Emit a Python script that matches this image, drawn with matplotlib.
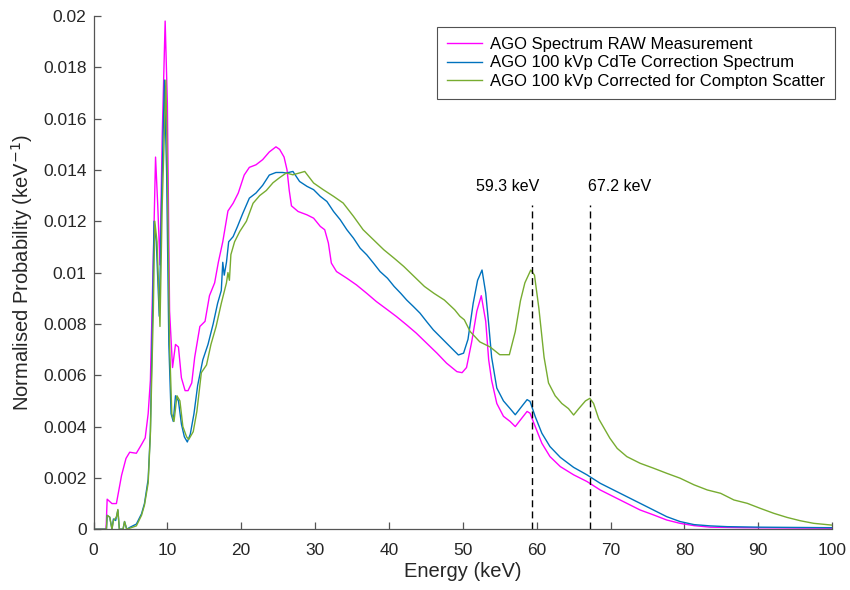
import matplotlib
matplotlib.use("Agg")
import matplotlib.pyplot as plt
from matplotlib.ticker import FuncFormatter

plt.rcParams["font.family"] = ["Liberation Sans", "DejaVu Sans"]

# values (keV, keV^-1)
energy_raw = [0, 1.7, 1.85, 2.5, 3.1, 3.8, 4.4, 4.9, 5.8, 6.5, 7.0, 7.4, 7.7, 8.1, 8.4, 8.7, 9.0,
              9.3, 9.7, 10.0, 10.3, 10.7, 11.1, 11.5, 11.9, 12.4, 12.8, 13.3, 13.7, 14.4, 15.1,
              15.7, 16.4, 16.9, 17.5, 18.2, 18.9, 19.6, 20.4, 21.1, 22.0, 22.9, 23.8, 24.7, 25.2,
              25.8, 26.2, 26.5, 26.8, 27.7, 28.9, 29.8, 30.7, 31.3, 31.8, 32.2, 32.9, 34.3, 35.6,
              37.0, 38.3, 39.8, 41.0, 42.4, 43.7, 45.1, 46.5, 47.8, 49.2, 49.9, 50.5, 51.2, 51.9,
              52.5, 53.1, 53.5, 53.9, 54.6, 55.5, 56.4, 57.1, 57.8, 58.7, 59.1, 59.8, 60.7, 61.8,
              63.2, 65.0, 66.8, 68.6, 70.4, 72.2, 74.0, 75.8, 77.6, 79.4, 81.3, 83.5, 88.1, 100]
prob_raw = [0, 0, 0.00117, 0.0010, 0.0010, 0.0021, 0.00276, 0.0030, 0.00296, 0.0033, 0.00356,
            0.0045, 0.0058, 0.0106, 0.0145, 0.0126, 0.0103, 0.0153, 0.0198, 0.0166, 0.0085,
            0.0063, 0.0072, 0.0071, 0.0059, 0.0054, 0.0054, 0.0057, 0.0067, 0.0079, 0.0081,
            0.0091, 0.0096, 0.0104, 0.0112, 0.0124, 0.0127, 0.0131, 0.0138, 0.0141, 0.0142,
            0.0144, 0.0147, 0.0149, 0.0148, 0.0145, 0.0140, 0.0132, 0.0126, 0.01238, 0.01225,
            0.01212, 0.0118, 0.01167, 0.01115, 0.01037, 0.01004, 0.00978, 0.00952, 0.00919,
            0.00887, 0.00855, 0.00829, 0.00796, 0.00764, 0.00725, 0.00686, 0.00647, 0.00614,
            0.0061, 0.0063, 0.0073, 0.0085, 0.0091, 0.0081, 0.0066, 0.0058, 0.0049, 0.0044,
            0.0042, 0.0040, 0.00426, 0.00459, 0.00452, 0.0040, 0.00335, 0.00283, 0.00244,
            0.00212, 0.00186, 0.00153, 0.00127, 0.00101, 0.00075, 0.00056, 0.00036, 0.00023,
            0.00014, 0.00008, 0.00006, 0.00004]

energy_cdte = [0, 1.75, 1.85, 2.2, 2.5, 2.7, 3.0, 3.3, 3.5, 4.0, 4.2, 4.5, 4.9, 5.8, 6.5, 6.9,
               7.4, 7.7, 8.0, 8.2, 8.5, 8.9, 9.2, 9.6, 9.9, 10.2, 10.5, 10.8, 11.1, 11.5, 11.9,
               12.3, 12.7, 13.1, 13.6, 14.1, 14.8, 15.5, 16.2, 16.8, 17.3, 17.5, 17.7, 18.0,
               18.3, 18.9, 19.5, 20.2, 21.1, 22.0, 22.9, 23.8, 24.7, 25.6, 26.1, 27.0, 27.9,
               28.9, 29.8, 30.7, 31.6, 32.5, 33.4, 34.3, 35.2, 36.1, 37.0, 37.9, 38.8, 39.8,
               40.7, 41.6, 42.4, 43.3, 44.2, 45.1, 46.0, 46.9, 47.8, 48.7, 49.4, 50.1, 50.7,
               51.4, 52.0, 52.6, 53.1, 53.5, 53.9, 54.6, 55.5, 56.4, 57.1, 57.8, 58.7, 59.1,
               59.8, 60.7, 61.8, 63.2, 65.0, 66.8, 68.6, 70.4, 72.2, 74.0, 75.8, 77.6, 79.4,
               81.3, 83.5, 85.8, 90.3, 94.8, 100]
prob_cdte = [0, 0, 0.00054, 0.00047, 0.0, 0.0004, 0.00034, 0.00074, 0, 0, 0.0003, 0, 0.00007,
             0.0002, 0.0006, 0.0010, 0.00195, 0.0038, 0.0085, 0.0120, 0.0112, 0.0083, 0.0126,
             0.0175, 0.0139, 0.0072, 0.0045, 0.0042, 0.0052, 0.0050, 0.0041, 0.0036, 0.0034,
             0.0037, 0.0045, 0.0056, 0.0066, 0.0072, 0.0080, 0.0088, 0.0093, 0.0104, 0.0099,
             0.0104, 0.0112, 0.0114, 0.0118, 0.0123, 0.0129, 0.0131, 0.0134, 0.0138, 0.0139,
             0.0139, 0.01388, 0.01394, 0.01355, 0.01336, 0.01323, 0.01297, 0.01277, 0.01238,
             0.01206, 0.01167, 0.01134, 0.01095, 0.01069, 0.01037, 0.01004, 0.00978, 0.00946,
             0.00919, 0.00893, 0.00868, 0.00842, 0.00809, 0.00777, 0.00751, 0.00725, 0.00699,
             0.00679, 0.00686, 0.0074, 0.0088, 0.0097, 0.0101, 0.0092, 0.0080, 0.0067, 0.0055,
             0.0050, 0.0047, 0.00446, 0.00472, 0.00505, 0.00498, 0.00439, 0.00374, 0.00322,
             0.0028, 0.00241, 0.00212, 0.00179, 0.00153, 0.00127, 0.00101, 0.00075, 0.00049,
             0.0003, 0.00018, 0.00013, 0.0001, 0.00008, 0.00007, 0.00006]

energy_compton = [0, 1.75, 1.85, 2.2, 2.5, 2.7, 3.1, 3.3, 3.5, 4.0, 4.2, 4.5, 4.9, 5.8, 6.5,
                  6.9, 7.4, 7.7, 8.1, 8.3, 8.6, 9.0, 9.3, 9.8, 10.0, 10.3, 10.6, 10.9, 11.3,
                  11.7, 12.1, 12.6, 12.9, 13.5, 14.0, 14.6, 15.3, 15.9, 16.6, 17.3, 18.0, 18.2,
                  18.4, 18.6, 19.1, 19.8, 20.7, 21.6, 22.5, 23.4, 24.3, 25.2, 26.1, 27.0, 28.6,
                  29.8, 31.1, 32.5, 33.8, 35.2, 36.5, 37.9, 39.3, 40.7, 42.0, 43.4, 44.8, 46.1,
                  47.5, 48.9, 49.6, 50.2, 51.0, 52.3, 53.7, 55.0, 55.5, 56.3, 57.1, 57.8, 58.4,
                  59.2, 59.7, 60.3, 61.0, 61.6, 62.5, 63.4, 64.3, 65.0, 65.7, 66.6, 67.2, 67.7,
                  68.4, 69.0, 69.9, 70.9, 72.2, 74.0, 75.8, 77.6, 79.4, 81.3, 83.1, 84.9, 86.7,
                  88.5, 90.3, 92.1, 93.9, 95.7, 97.5, 100]
prob_compton = [0, 0, 0.00054, 0.00047, 0, 0.00034, 0.00047, 0.00077, 0, 0, 0.0003, 0,
                0.00004, 0.00013, 0.00054, 0.00094, 0.0018, 0.0037, 0.0085, 0.0120, 0.0112,
                0.0079, 0.0126, 0.0175, 0.0139, 0.0072, 0.0045, 0.0042, 0.0052, 0.0050, 0.0040,
                0.0036, 0.0035, 0.0038, 0.0046, 0.0061, 0.0064, 0.0072, 0.0079, 0.0088, 0.0096,
                0.0100, 0.0097, 0.0107, 0.0112, 0.0116, 0.0120, 0.0127, 0.0130, 0.0132, 0.0135,
                0.0137, 0.01388, 0.01381, 0.01394, 0.01349, 0.01323, 0.01297, 0.01271, 0.01219,
                0.01167, 0.01128, 0.01089, 0.01056, 0.01024, 0.00985, 0.00946, 0.00919, 0.00893,
                0.00855, 0.0083, 0.00816, 0.0077, 0.0073, 0.0071, 0.0068, 0.0068, 0.0068, 0.0077,
                0.0089, 0.0096, 0.0101, 0.0099, 0.0086, 0.0067, 0.0057, 0.0052, 0.0049, 0.0047,
                0.00445, 0.0047, 0.0050, 0.0051, 0.0049, 0.0043, 0.0040, 0.00355, 0.00315,
                0.00283, 0.00257, 0.00238, 0.00218, 0.00199, 0.00173, 0.00153, 0.0014, 0.00114,
                0.00101, 0.00081, 0.00062, 0.00046, 0.00033, 0.00023, 0.00016]

series_labels = ["AGO Spectrum RAW Measurement",
                 "AGO 100 kVp CdTe Correction Spectrum",
                 "AGO 100 kVp Corrected for Compton Scatter"]
peak_energies = [59.3, 67.2]
peak_labels = ["59.3 keV", "67.2 keV"]

fig = plt.figure(figsize=(8.5, 5.9), dpi=100)
ax = fig.add_axes([0.110, 0.103, 0.869, 0.870])

ax.plot(energy_raw, prob_raw, color="#FF00FF", lw=1.0, label=series_labels[0])
ax.plot(energy_cdte, prob_cdte, color="#0072BD", lw=1.0, label=series_labels[1])
ax.plot(energy_compton, prob_compton, color="#77AC30", lw=1.0, label=series_labels[2])

# dashed markers for the two peaks
label_x = [51.8, 67.0]
for e, lab, lx in zip(peak_energies, peak_labels, label_x):
    ax.plot([e, e], [0, 0.01265], color="black", lw=1.0, dashes=(5, 3))
    ax.text(lx, 0.01335, lab, fontsize=11.5, ha="left", va="center", color="black")

ax.set_xlim(0, 100)
ax.set_ylim(0, 0.02)
ax.set_xticks(range(0, 101, 10))
ax.set_yticks([i * 0.002 for i in range(11)])
ax.yaxis.set_major_formatter(FuncFormatter(lambda v, p: f"{v:.4g}" if v else "0"))

for s in ["top", "right"]:
    ax.spines[s].set_visible(False)
for s in ["left", "bottom"]:
    ax.spines[s].set_color("#555555")
    ax.spines[s].set_linewidth(0.9)
ax.tick_params(direction="in", length=5, width=0.9, color="#555555",
               labelsize=12.5, labelcolor="#262626", pad=5)
ax.tick_params(axis="x", pad=10)

ax.set_xlabel("Energy (keV)", fontsize=14.5, color="#262626", labelpad=3)
ax.set_ylabel("Normalised Probability (keV$^{-1}$)", fontsize=14.5, color="#262626", labelpad=6)

leg = ax.legend(loc="upper right", bbox_to_anchor=(1.004, 0.979), fontsize=12,
                frameon=True, fancybox=False, handlelength=2.1, handletextpad=0.5,
                borderpad=0.6, labelspacing=0.22, borderaxespad=0.0)
leg.get_frame().set_edgecolor("#262626")
leg.get_frame().set_linewidth(0.8)

fig.savefig("out.png", dpi=100)
